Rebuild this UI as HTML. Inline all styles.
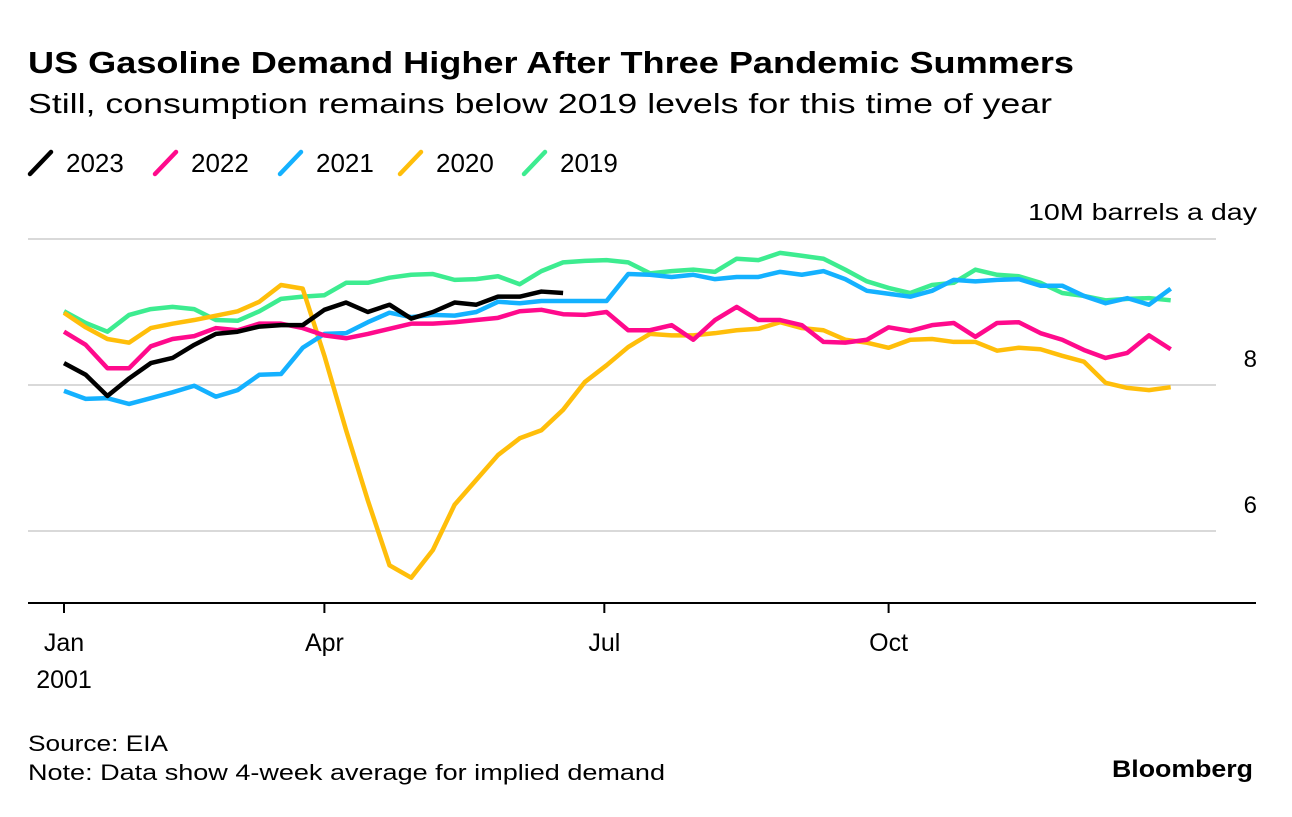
<!DOCTYPE html>
<html><head><meta charset="utf-8"><style>
body{margin:0;background:#fff;width:1292px;height:812px;overflow:hidden;font-family:"Liberation Sans",sans-serif}
</style></head><body>
<svg id="c" width="1292" height="812" xmlns="http://www.w3.org/2000/svg" font-family="Liberation Sans, sans-serif">
<text x="28" y="73" font-size="31" font-weight="bold" fill="#000" textLength="1046" lengthAdjust="spacingAndGlyphs">US Gasoline Demand Higher After Three Pandemic Summers</text>
<text x="28" y="113" font-size="28" fill="#000" textLength="1024" lengthAdjust="spacingAndGlyphs">Still, consumption remains below 2019 levels for this time of year</text>
<g id="legend"></g>
<text x="1257" y="220" font-size="23" text-anchor="end" textLength="229" lengthAdjust="spacingAndGlyphs">10M barrels a day</text>
<g id="grid"></g>
<g id="lines"></g>
<g id="xaxis"></g>
<text x="28" y="751" font-size="22" textLength="140" lengthAdjust="spacingAndGlyphs">Source: EIA</text>
<text x="28" y="780" font-size="22" textLength="637" lengthAdjust="spacingAndGlyphs">Note: Data show 4-week average for implied demand</text>
<text x="1253" y="777" font-size="24" font-weight="bold" text-anchor="end" textLength="141" lengthAdjust="spacingAndGlyphs">Bloomberg</text>
</svg>
<script>
const seriesNames=["2023","2022","2021","2020","2019"];
const seriesColors=["#000000","#ff0a8c","#14b1ff","#ffbe0a","#3dec90"];
const d2023=[8.30,8.14,7.85,8.09,8.30,8.37,8.55,8.70,8.73,8.80,8.82,8.82,9.03,9.13,9.00,9.10,8.91,9.00,9.13,9.10,9.21,9.21,9.28,9.26];
const d2022=[8.73,8.55,8.23,8.23,8.53,8.63,8.67,8.78,8.75,8.84,8.84,8.78,8.68,8.64,8.70,8.77,8.84,8.84,8.86,8.89,8.92,9.01,9.03,8.97,8.96,9.00,8.75,8.75,8.82,8.62,8.89,9.07,8.89,8.89,8.82,8.59,8.58,8.62,8.79,8.74,8.82,8.85,8.66,8.85,8.86,8.71,8.62,8.48,8.37,8.44,8.68,8.49];
const d2021=[7.92,7.81,7.82,7.74,7.82,7.90,7.99,7.84,7.93,8.14,8.15,8.51,8.70,8.71,8.86,8.99,8.93,8.96,8.95,9.00,9.14,9.12,9.15,9.15,9.15,9.15,9.52,9.51,9.48,9.51,9.45,9.48,9.48,9.55,9.51,9.56,9.45,9.29,9.25,9.21,9.29,9.44,9.42,9.44,9.45,9.36,9.36,9.22,9.12,9.19,9.10,9.32];
const d2020=[8.99,8.79,8.63,8.58,8.78,8.84,8.89,8.95,9.01,9.14,9.37,9.32,8.40,7.38,6.42,5.53,5.36,5.74,6.36,6.70,7.04,7.27,7.38,7.66,8.04,8.27,8.52,8.70,8.68,8.68,8.71,8.75,8.77,8.86,8.78,8.75,8.62,8.58,8.51,8.62,8.63,8.59,8.59,8.47,8.51,8.49,8.40,8.32,8.03,7.96,7.93,7.97];
const d2019=[9.01,8.85,8.73,8.96,9.04,9.07,9.04,8.89,8.88,9.01,9.18,9.21,9.23,9.40,9.40,9.47,9.51,9.52,9.44,9.45,9.49,9.38,9.56,9.68,9.70,9.71,9.68,9.53,9.56,9.58,9.55,9.73,9.71,9.81,9.77,9.73,9.58,9.42,9.33,9.26,9.37,9.40,9.58,9.51,9.49,9.40,9.26,9.22,9.16,9.18,9.19,9.16];
const yTicks=[10,8,6];
const yTickLabels=["","8","6"];
const xTickPos=[0,12,24.9,38];
const xTickLabels=["Jan","Apr","Jul","Oct"];
const NS="http://www.w3.org/2000/svg";
const xs=i=>64+i*21.7;
const ys=v=>239+(10-v)*73;
function mk(t,a,p){const e=document.createElementNS(NS,t);for(const k in a)e.setAttribute(k,a[k]);p.appendChild(e);return e;}
const grid=document.getElementById('grid');
yTicks.forEach((t,k)=>{
  const l=mk('line',{x1:28,x2:1216,y1:ys(t),y2:ys(t),stroke:'#d9d9d9','stroke-width':2},grid);
  
  
  if(yTickLabels[k]){const tx=mk('text',{x:1257,y:ys(t)-18,'font-size':24,'text-anchor':'end'},grid);tx.textContent=yTickLabels[k];
  
  }
});
const xa=document.getElementById('xaxis');
const base=mk('line',{x1:28,x2:1256,y1:603,y2:603,stroke:'#000','stroke-width':2},xa);


xTickPos.forEach((p,k)=>{
  const tk=mk('line',{x1:xs(p),x2:xs(p),y1:603,y2:613,stroke:'#000','stroke-width':2},xa);
  
  
  const tx=mk('text',{x:xs(p),y:651,'font-size':25,'text-anchor':'middle'},xa);tx.textContent=xTickLabels[k];
  
  
});
const yr=mk('text',{x:64,y:688,'font-size':25,'text-anchor':'middle'},xa);yr.textContent="2001";


const data=[d2023,d2022,d2021,d2020,d2019];
const lines=document.getElementById('lines');
for(let s=4;s>=0;s--){
  const pts=data[s].map((v,i)=>xs(i)+','+ys(v)).join(' ');
  const pl=mk('polyline',{points:pts,fill:'none',stroke:seriesColors[s],'stroke-width':4.5,'stroke-linejoin':'round'},lines);
  
  
}
const lg=document.getElementById('legend');
const lx=[30,155,280,400,524];
seriesNames.forEach((n,k)=>{
  const ln=mk('line',{x1:lx[k],y1:174,x2:lx[k]+21,y2:152,stroke:seriesColors[k],'stroke-width':4.5,'stroke-linecap':'round'},lg);
  
  
  const tx=mk('text',{x:lx[k]+36,y:172,'font-size':26},lg);tx.textContent=n;
  
  
});
</script>
</body></html>
